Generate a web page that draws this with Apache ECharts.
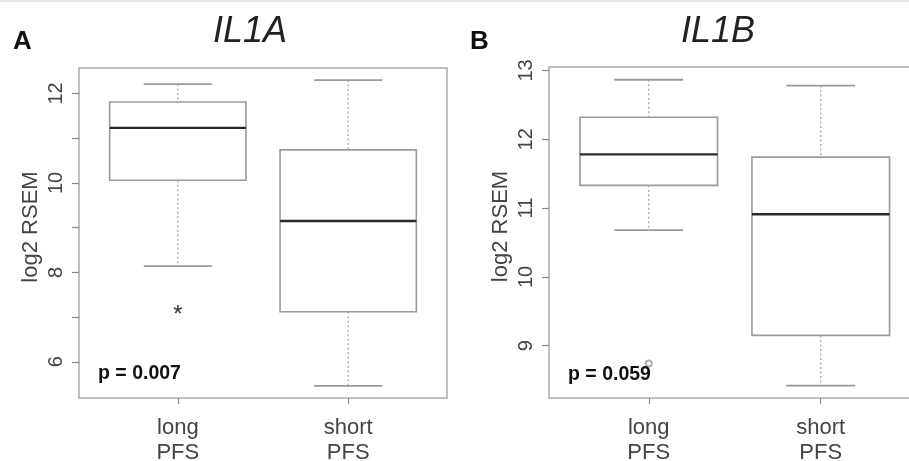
<!DOCTYPE html>
<html><head><meta charset="utf-8">
<script src="https://cdn.jsdelivr.net/npm/echarts@6/dist/echarts.min.js"></script>
<style>html,body{margin:0;padding:0;background:#fff}#c{width:909px;height:461px}</style>
</head><body><div id="c"></div>
<script>
// ---- data ----
const categories = ['long\nPFS', 'short\nPFS'];
const categoryPos = [1, 2];
// box stats: [min, Q1, median, Q3, max]
const il1aLong = [8.14, 10.06, 11.23, 11.81, 12.21];
const il1aShort = [5.46, 7.12, 9.15, 10.74, 12.30];
const il1aOutliers = [[1, 7.12]];
const il1bLong = [10.68, 11.33, 11.78, 12.32, 12.865];
const il1bShort = [8.42, 9.15, 10.91, 11.74, 12.78];
const il1bOutliers = [[1, 8.74]];
const il1aTicks = [6, 7, 8, 9, 10, 11, 12];
const il1aLabels = [6, 8, 10, 12];
const il1bTicks = [9, 10, 11, 12, 13];
const il1bLabels = [9, 10, 11, 12, 13];
const il1aRange = [5.19, 12.57];
const il1bRange = [8.24, 13.05];
const titles = ['IL1A', 'IL1B'];
const panelLetters = ['A', 'B'];
const pValues = ['p = 0.007', 'p = 0.059'];
const yName = 'log2 RSEM';

const FONT = '"Liberation Sans", Arial, Helvetica, sans-serif';
const chart = echarts.init(document.getElementById('c'), null, {renderer: 'canvas'});

function renderBox(params, api) {
  const x = api.value(0);
  const half = api.size([0.4, 0])[0];
  const capHalf = api.size([0.2, 0])[0];
  const pMin = api.coord([x, api.value(1)]);
  const pQ1 = api.coord([x, api.value(2)]);
  const pMed = api.coord([x, api.value(3)]);
  const pQ3 = api.coord([x, api.value(4)]);
  const pMax = api.coord([x, api.value(5)]);
  const cx = pMed[0];
  const grey = '#9a9a9a';
  return {
    type: 'group',
    children: [
      {type: 'line', shape: {x1: cx, y1: pMax[1], x2: cx, y2: pQ3[1]}, style: {stroke: '#a0a0a0', lineWidth: 1.2, lineDash: [2, 2.5]}},
      {type: 'line', shape: {x1: cx, y1: pQ1[1], x2: cx, y2: pMin[1]}, style: {stroke: '#a0a0a0', lineWidth: 1.2, lineDash: [2, 2.5]}},
      {type: 'line', shape: {x1: cx - capHalf, y1: pMax[1], x2: cx + capHalf, y2: pMax[1]}, style: {stroke: grey, lineWidth: 1.8}},
      {type: 'line', shape: {x1: cx - capHalf, y1: pMin[1], x2: cx + capHalf, y2: pMin[1]}, style: {stroke: grey, lineWidth: 1.8}},
      {type: 'rect', shape: {x: cx - half, y: pQ3[1], width: 2 * half, height: pQ1[1] - pQ3[1]}, style: {fill: '#fff', stroke: grey, lineWidth: 1.6}},
      {type: 'line', shape: {x1: cx - half, y1: pMed[1], x2: cx + half, y2: pMed[1]}, style: {stroke: '#2a2a2a', lineWidth: 2.4}}
    ]
  };
}

function renderStar(params, api) {
  const c = api.coord([api.value(0), api.value(1)]);
  return {type: 'text', x: c[0], y: c[1] + 4, style: {text: '*', font: '24px ' + FONT, fill: '#333', align: 'center', verticalAlign: 'middle'}};
}

function makeX(gi) {
  return {
    type: 'value', gridIndex: gi, min: 0.42, max: 2.58,
    splitLine: {show: false}, axisLine: {show: false},
    axisTick: {show: true, length: 6, customValues: categoryPos, lineStyle: {color: '#888', width: 1.2}},
    axisLabel: {customValues: categoryPos, formatter: v => categories[Math.round(v) - 1], margin: 17,
      fontSize: 22, lineHeight: 25, color: '#444', fontFamily: FONT}
  };
}
function makeY(gi, range, ticks, labels) {
  return {
    type: 'value', gridIndex: gi, min: range[0], max: range[1],
    splitLine: {show: false}, axisLine: {show: false},
    axisTick: {show: true, length: 7, customValues: ticks, lineStyle: {color: '#888', width: 1.2}},
    axisLabel: {customValues: labels, rotate: 90, margin: 13, fontSize: 20, color: '#444', fontFamily: FONT},
    name: yName, nameLocation: 'middle', nameGap: 37,
    nameTextStyle: {fontSize: 22, color: '#444', fontFamily: FONT, padding: [0, 0, 0, 12]}
  };
}
const gridStyle = {show: true, borderColor: '#ababab', borderWidth: 1.5, backgroundColor: 'transparent', containLabel: false, outerBoundsMode: 'none'};

const option = {
  backgroundColor: '#fff',
  animation: false,
  graphic: [
    {type: 'rect', left: 0, top: 0, shape: {width: 909, height: 2}, style: {fill: '#e8e8e8'}, silent: true}
  ],
  title: [
    {text: panelLetters[0], left: 13, top: 29, padding: 0, textStyle: {fontSize: 26, fontWeight: 'bold', color: '#111', fontFamily: FONT}},
    {text: panelLetters[1], left: 470, top: 29, padding: 0, textStyle: {fontSize: 26, fontWeight: 'bold', color: '#111', fontFamily: FONT}},
    {text: titles[0], left: 250, textAlign: 'center', top: 14, padding: 0, textStyle: {fontSize: 36, fontStyle: 'italic', fontWeight: 'normal', color: '#222', fontFamily: FONT}},
    {text: titles[1], left: 718, textAlign: 'center', top: 14, padding: 0, textStyle: {fontSize: 36, fontStyle: 'italic', fontWeight: 'normal', color: '#222', fontFamily: FONT}},
    {text: pValues[0], left: 98, top: 364, padding: 0, textStyle: {fontSize: 19.5, fontWeight: 'bold', color: '#111', fontFamily: FONT}},
    {text: pValues[1], left: 568, top: 365, padding: 0, textStyle: {fontSize: 19.5, fontWeight: 'bold', color: '#111', fontFamily: FONT}}
  ],
  grid: [
    Object.assign({left: 79, top: 68, width: 368, height: 330}, gridStyle),
    Object.assign({left: 549, top: 67, width: 371.5, height: 331}, gridStyle)
  ],
  xAxis: [makeX(0), makeX(1)],
  yAxis: [makeY(0, il1aRange, il1aTicks, il1aLabels), makeY(1, il1bRange, il1bTicks, il1bLabels)],
  series: [
    {type: 'custom', xAxisIndex: 0, yAxisIndex: 0, renderItem: renderBox,
      data: [[categoryPos[0]].concat(il1aLong), [categoryPos[1]].concat(il1aShort)]},
    {type: 'custom', xAxisIndex: 0, yAxisIndex: 0, renderItem: renderStar, data: il1aOutliers},
    {type: 'custom', xAxisIndex: 1, yAxisIndex: 1, renderItem: renderBox,
      data: [[categoryPos[0]].concat(il1bLong), [categoryPos[1]].concat(il1bShort)]},
    {type: 'scatter', xAxisIndex: 1, yAxisIndex: 1, symbol: 'emptyCircle', symbolSize: 6,
      itemStyle: {color: '#999', borderWidth: 1}, data: il1bOutliers}
  ]
};
chart.setOption(option);
</script></body></html>
